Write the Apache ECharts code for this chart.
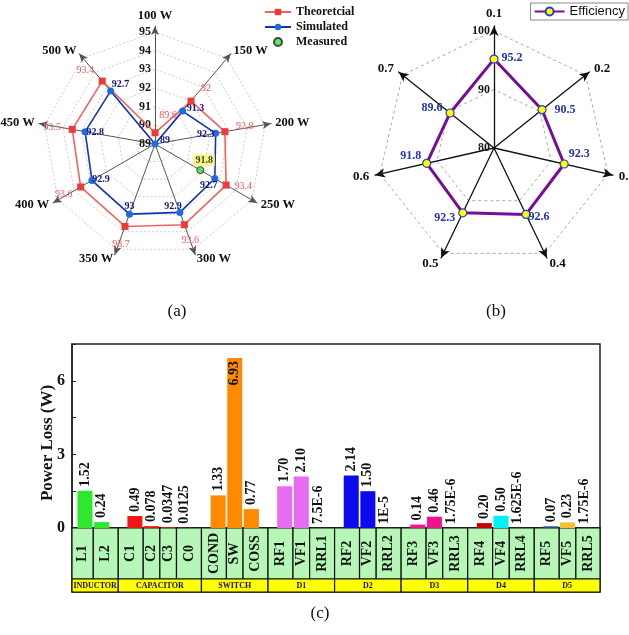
<!DOCTYPE html>
<html>
<head>
<meta charset="utf-8">
<script src="https://cdn.jsdelivr.net/npm/echarts@6/dist/echarts.min.js"></script>
<style>
  html, body { margin: 0; padding: 0; background: #fff; }
  #main { width: 629px; height: 635px; }
</style>
</head>
<body>
<div id="main"></div>
<script>
// (a) efficiency vs output power
const powerLevels = ['100 W', '150 W', '200 W', '250 W', '300 W', '350 W', '400 W', '450 W', '500 W']
const theoretical = [89.6, 92, 92.8, 93.4, 93.6, 93.7, 93.6, 93.5, 93.4]
const simulated = [89, 91.3, 92.3, 92.7, 92.9, 93, 92.9, 92.8, 92.7]
const measuredAt = '250 W'
const measured = 91.8
// (b) efficiency vs duty ratio
const dutyLevels = ['0.1', '0.2', '0.3', '0.4', '0.5', '0.6', '0.7']
const efficiency = [95.2, 90.5, 92.3, 92.6, 92.3, 91.8, 89.6]
// (c) power loss breakdown
const lossGroups = ['INDUCTOR', 'CAPACITOR', 'SWITCH', 'D1', 'D2', 'D3', 'D4', 'D5']
const lossParts = [['L1', 'L2'], ['C1', 'C2', 'C3', 'C0'], ['COND', 'SW', 'COSS'], ['RF1', 'VF1', 'RRL1'],
  ['RF2', 'VF2', 'RRL2'], ['RF3', 'VF3', 'RRL3'], ['RF4', 'VF4', 'RRL4'], ['RF5', 'VF5', 'RRL5']]
const lossValues = [[1.52, 0.24], [0.49, 0.078, 0.0347, 0.0125], [1.33, 6.93, 0.77], [1.70, 2.10, 7.5e-6],
  [2.14, 1.50, 1e-5], [0.14, 0.46, 1.75e-6], [0.20, 0.50, 1.625e-6], [0.07, 0.23, 1.75e-6]]
const lossText = [['1.52', '0.24'], ['0.49', '0.078', '0.0347', '0.0125'], ['1.33', '6.93', '0.77'], ['1.70', '2.10', '7.5E-6'],
  ['2.14', '1.50', '1E-5'], ['0.14', '0.46', '1.75E-6'], ['0.20', '0.50', '1.625E-6'], ['0.07', '0.23', '1.75E-6']]
const lossTicks = [0, 3, 6]

// styles
const SERIF = '"Liberation Serif", "DejaVu Serif", serif'
const partColors = [['#2EE82E', '#2EE82E'], ['#F51414', '#F51414', '#F51414', '#F51414'], ['#FF8A00', '#FF8A00', '#FF8A00'],
  ['#E86BF2', '#E86BF2', '#E86BF2'], ['#0A0AEE', '#0A0AEE', '#0A0AEE'], ['#F0138A', '#F0138A', '#F0138A'],
  ['#C80000', '#00F2F2', '#00F2F2'], ['#1F4F8F', '#F8C030', '#F8C030']]
// label offsets (dx, dy) from each point
const offTheo = [[13, -17], [15, -13], [20, -5], [17, 1], [6, 16], [-4, 18], [-17, 7], [-20, -2], [-17, -11]]
const offSim = [[10, -4], [13, -3], [-10, 1], [-6, 7], [-7, -6], [0, -8], [9, -1], [10, 1], [10, -7]]
const offEff = [[18, -1], [23, 0], [15, -10], [13, 2], [-18, 5], [-16, -7], [-18, -5]]

// 雷达图的点：[半径值, 角度]，最后再回到起点闭合
function ring (vals, offs, n) {
  const step = 360 / n
  const out = vals.map((v, i) => ({ value: [v, i * step], label: { offset: offs[i] } }))
  out.push({ value: [vals[0], 360], symbol: 'none', label: { show: false } })
  return out
}
// radar 的指标是逆时针排的，这里翻过来
function ccw (names) {
  return [names[0]].concat(names.slice(1).reverse())
}
const radiusText = p => String(p.value[0])

// bar chart slots: one empty slot between groups
const xMin = -0.78
const xMax = 30.95
const bars = []
const cells = []
const cellNames = []
const groups = []
let slot = 0
lossParts.forEach((parts, g) => {
  const gl = g === 0 ? xMin : slot - 1
  const gr = g === lossParts.length - 1 ? xMax : slot + parts.length
  parts.forEach((p, k) => {
    const x = slot + k
    const item = {
      value: [x, lossValues[g][k]],
      itemStyle: { color: partColors[g][k] }
    }
    if (p === 'SW') {
      item.label = { position: 'insideTop', align: 'right', verticalAlign: 'middle', distance: 3, color: '#111' }
    }
    bars.push(item)
    cells.push([k === 0 ? gl : x - 0.5, k === parts.length - 1 ? gr : x + 0.5])
    cellNames.push(p)
  })
  groups.push([gl, gr])
  slot += parts.length + 1
})
const barText = [].concat(...lossText)

function renderBox (top, bottom, fill, names, font, rotate) {
  return function (params, api) {
    const p0 = api.coord([api.value(0), top])
    const p1 = api.coord([api.value(1), bottom])
    return {
      type: 'group',
      children: [{
        type: 'rect',
        shape: { x: p0[0], y: p0[1], width: p1[0] - p0[0], height: p1[1] - p0[1] },
        style: { fill: fill, stroke: '#111', lineWidth: 1.2 }
      }, {
        type: 'text',
        x: (p0[0] + p1[0]) / 2,
        y: (p0[1] + p1[1]) / 2,
        rotation: rotate ? Math.PI / 2 : 0,
        style: { text: names[params.dataIndex], align: 'center', verticalAlign: 'middle', font: font, fill: '#111' }
      }]
    }
  }
}

const angleHidden = { type: 'value', min: 0, max: 360, startAngle: 90, clockwise: true, show: false }
const tickLabel = { fontFamily: SERIF, fontWeight: 'bold', fontSize: 12, color: '#1a1a1a', margin: 4 }

const chart = echarts.init(document.getElementById('main'))
const option = {
  animation: false,
  backgroundColor: '#fff',
  title: [
    { text: '(a)', left: 172, top: 298, textAlign: 'center', textStyle: { fontFamily: SERIF, fontWeight: 'normal', fontSize: 17, color: '#111' } },
    { text: '(b)', left: 491, top: 298, textAlign: 'center', textStyle: { fontFamily: SERIF, fontWeight: 'normal', fontSize: 17, color: '#111' } },
    { text: '(c)', left: 315, top: 600, textAlign: 'center', textStyle: { fontFamily: SERIF, fontWeight: 'normal', fontSize: 17, color: '#111' } }
  ],
  legend: [{
    data: ['Theoretcial', 'Simulated', 'Measured'],
    orient: 'vertical',
    left: 259,
    top: 1,
    itemWidth: 26,
    itemHeight: 8,
    itemGap: 3,
    textStyle: { fontFamily: SERIF, fontWeight: 'bold', fontSize: 12, color: '#111' }
  }, {
    data: ['Efficiency'],
    right: 1,
    top: 3,
    borderColor: '#888',
    borderWidth: 1,
    padding: [2, 3, 2, 3],
    itemWidth: 30,
    itemHeight: 10,
    textStyle: { fontFamily: '"Liberation Sans", Arial, sans-serif', fontSize: 13, color: '#111' }
  }],
  radar: [{
    // (a) dashed rings 89..95
    center: [155, 144],
    radius: 112,
    startAngle: 90,
    shape: 'polygon',
    splitNumber: 6,
    indicator: powerLevels.map(() => ({ name: '', min: 89, max: 95 })),
    axisName: { show: false },
    axisLine: { show: false },
    splitLine: { lineStyle: { color: '#cdcdcd', type: [2, 2] } },
    splitArea: { show: false }
  }, {
    // (a) axes with arrows
    center: [155, 144],
    radius: 118,
    startAngle: 90,
    shape: 'polygon',
    indicator: ccw(powerLevels).map(n => ({ name: n, min: 0, max: 1 })),
    nameGap: 4,
    axisName: { color: '#111', fontFamily: SERIF, fontWeight: 'bold', fontSize: 12.5 },
    axisLine: { symbol: ['none', 'arrow'], symbolSize: [6, 9], lineStyle: { color: '#555', width: 1 } },
    splitLine: { show: false },
    splitArea: { show: false }
  }, {
    // (b) dashed rings 80..100
    center: [494, 148],
    radius: 117,
    startAngle: 90,
    shape: 'polygon',
    splitNumber: 2,
    indicator: dutyLevels.map(() => ({ name: '', min: 80, max: 100 })),
    axisName: { show: false },
    axisLine: { show: false },
    splitLine: { lineStyle: { color: '#aaa', type: [3, 3] } },
    splitArea: { show: false }
  }, {
    // (b) axes with arrows
    center: [494, 148],
    radius: 122,
    startAngle: 90,
    shape: 'polygon',
    indicator: ccw(dutyLevels).map(n => ({ name: n, min: 0, max: 1 })),
    nameGap: 6,
    axisName: { color: '#111', fontFamily: SERIF, fontWeight: 'bold', fontSize: 13 },
    axisLine: { symbol: ['none', 'arrow'], symbolSize: [7, 10], lineStyle: { color: '#111', width: 1.3 } },
    splitLine: { show: false },
    splitArea: { show: false }
  }],
  polar: [
    { center: [155, 144], radius: 112 },
    { center: [494, 148], radius: 117 }
  ],
  angleAxis: [
    Object.assign({ polarIndex: 0 }, angleHidden),
    Object.assign({ polarIndex: 1 }, angleHidden)
  ],
  radiusAxis: [{
    polarIndex: 0, type: 'value', min: 89, max: 95, interval: 1,
    axisLine: { show: false }, axisTick: { show: false }, splitLine: { show: false },
    axisLabel: tickLabel
  }, {
    polarIndex: 1, type: 'value', min: 80, max: 100, interval: 10,
    axisLine: { show: false }, axisTick: { show: false }, splitLine: { show: false },
    axisLabel: tickLabel
  }],
  grid: [
    { left: 72, top: 344, width: 528, height: 184, show: true, borderColor: '#222', borderWidth: 1.5 },
    { left: 72, top: 528, width: 528, height: 64, show: true, borderColor: '#222', borderWidth: 1.5 }
  ],
  xAxis: [
    { gridIndex: 0, type: 'value', min: xMin, max: xMax, show: false },
    { gridIndex: 1, type: 'value', min: xMin, max: xMax, show: false }
  ],
  yAxis: [{
    gridIndex: 0,
    type: 'value',
    min: 0,
    max: 7.5,
    interval: 1.5,
    name: 'Power Loss (W)',
    nameLocation: 'middle',
    nameGap: 16,
    nameMoveOverlap: false,
    nameTextStyle: { fontFamily: SERIF, fontWeight: 'bold', fontSize: 17, color: '#111', padding: [0, 14, 0, 0] },
    axisLine: { show: true, onZero: false, lineStyle: { color: '#222', width: 1.5 } },
    axisTick: { show: true, inside: true, length: 4, lineStyle: { color: '#222' } },
    axisLabel: { customValues: lossTicks, fontFamily: SERIF, fontWeight: 'bold', fontSize: 16, color: '#111', margin: 7 },
    splitLine: { show: false }
  }, {
    gridIndex: 1, type: 'value', min: 0, max: 1, show: false
  }],
  series: [{
    name: 'Theoretcial',
    type: 'line',
    coordinateSystem: 'polar',
    polarIndex: 0,
    symbol: 'rect',
    symbolSize: 7,
    lineStyle: { color: '#F26262', width: 1.6 },
    itemStyle: { color: '#EE3A3A' },
    label: { show: true, position: 'inside', formatter: radiusText, fontFamily: SERIF, fontSize: 10, color: '#F05858' },
    data: ring(theoretical, offTheo, powerLevels.length),
    z: 3
  }, {
    name: 'Simulated',
    type: 'line',
    coordinateSystem: 'polar',
    polarIndex: 0,
    symbol: 'circle',
    symbolSize: 7,
    lineStyle: { color: '#1432B4', width: 1.6 },
    itemStyle: { color: '#1E6BE0' },
    label: { show: true, position: 'inside', formatter: radiusText, fontFamily: SERIF, fontWeight: 'bold', fontSize: 10, color: '#15157E' },
    data: ring(simulated, offSim, powerLevels.length),
    z: 4
  }, {
    name: 'Measured',
    type: 'scatter',
    coordinateSystem: 'polar',
    polarIndex: 0,
    symbol: 'circle',
    symbolSize: 7,
    itemStyle: { color: '#3DE03D', borderColor: '#222', borderWidth: 1 },
    label: {
      show: true, position: 'inside', offset: [4, -10], formatter: radiusText, fontFamily: SERIF, fontWeight: 'bold', fontSize: 10,
      color: '#111', backgroundColor: '#F7F36A', padding: [1, 2]
    },
    data: [[measured, powerLevels.indexOf(measuredAt) * 40]],
    z: 5
  }, {
    name: 'Efficiency',
    type: 'line',
    coordinateSystem: 'polar',
    polarIndex: 1,
    symbol: 'circle',
    symbolSize: 8,
    lineStyle: { color: '#760C98', width: 3 },
    itemStyle: { color: '#FFFF00', borderColor: '#2B3FC8', borderWidth: 1.2 },
    label: { show: true, position: 'inside', formatter: radiusText, fontFamily: SERIF, fontWeight: 'bold', fontSize: 12, color: '#2233B8' },
    data: ring(efficiency, offEff, dutyLevels.length),
    z: 3
  }, {
    type: 'bar',
    xAxisIndex: 0,
    yAxisIndex: 0,
    barWidth: 15,
    label: {
      show: true,
      position: 'top',
      rotate: 90,
      align: 'left',
      verticalAlign: 'middle',
      distance: 4,
      fontFamily: SERIF,
      fontWeight: 'bold',
      fontSize: 14,
      color: '#111',
      formatter: p => barText[p.dataIndex]
    },
    data: bars
  }, {
    type: 'custom',
    xAxisIndex: 1,
    yAxisIndex: 1,
    renderItem: renderBox(1, 0.203, '#B6F6B6', cellNames, 'bold 14px ' + SERIF, true),
    data: cells
  }, {
    type: 'custom',
    xAxisIndex: 1,
    yAxisIndex: 1,
    renderItem: renderBox(0.203, 0, '#FFFF00', lossGroups, 'bold 8px ' + SERIF, false),
    data: groups
  }]
}
chart.setOption(option)
</script>
</body>
</html>
